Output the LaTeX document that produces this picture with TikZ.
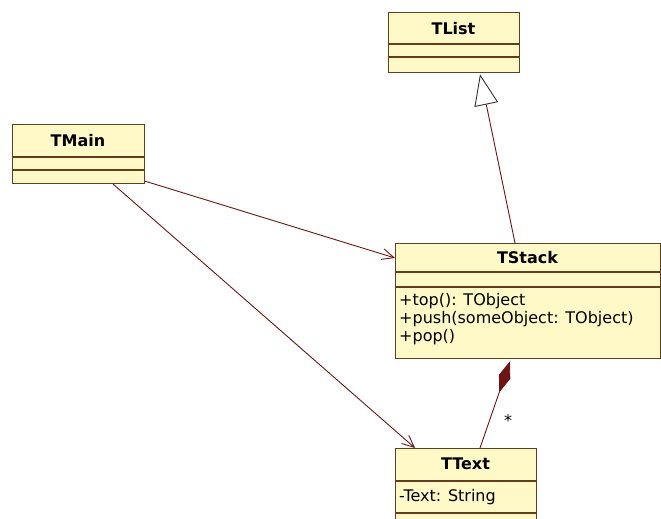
\documentclass[tikz,border=0pt]{standalone}
\usepackage{fontspec}
\setmainfont{DejaVu Sans}
\usetikzlibrary{arrows.meta}
\definecolor{boxfill}{RGB}{255,249,200}
\definecolor{boxline}{RGB}{100,60,30}
\definecolor{connc}{RGB}{110,20,20}
\begin{document}
\begin{tikzpicture}[x=1pt,y=-1pt,
  umlbox/.style={draw=boxline, fill=boxfill, line width=1.2pt, anchor=north west, inner sep=0pt},
  sep/.style={draw=boxline, line width=1.2pt},
  cname/.style={font=\fontsize{16}{18}\selectfont\bfseries, inner sep=0pt},
  member/.style={font=\fontsize{16}{18}\selectfont, anchor=west, inner sep=0pt},
  conn/.style={draw=connc, line width=0.9pt},
]
\useasboundingbox (0,0) rectangle (661,519);

% TList
\node[umlbox, minimum width=131pt, minimum height=60pt] (tlist) at (388,12) {};
\draw[sep] ([yshift=-32pt]tlist.north west) -- ([yshift=-32pt]tlist.north east);
\draw[sep] ([yshift=-45pt]tlist.north west) -- ([yshift=-45pt]tlist.north east);
\node[cname] (tlistname) at (453.5,29) {TList};

% TMain
\node[umlbox, minimum width=132pt, minimum height=59pt] (tmain) at (12,124) {};
\draw[sep] ([yshift=-33pt]tmain.north west) -- ([yshift=-33pt]tmain.north east);
\draw[sep] ([yshift=-46pt]tmain.north west) -- ([yshift=-46pt]tmain.north east);
\node[cname] (tmainname) at (78,141) {TMain};

% TStack
\node[umlbox, minimum width=265pt, minimum height=115pt] (tstack) at (395,243) {};
\draw[sep] ([yshift=-29pt]tstack.north west) -- ([yshift=-29pt]tstack.north east);
\draw[sep] ([yshift=-44pt]tstack.north west) -- ([yshift=-44pt]tstack.north east);
\node[cname] (tstackname) at (527.5,258) {TStack};
\node[member] (op1) at (399,301) {+top(): TObject};
\node[member] (op2) at (399,319) {+push(someObject: TObject)};
\node[member] (op3) at (399,337) {+pop()};

% TText
\node[umlbox, minimum width=141pt, minimum height=80pt] (ttext) at (395,448) {};
\draw[sep] ([yshift=-33pt]ttext.north west) -- ([yshift=-33pt]ttext.north east);
\draw[sep] ([yshift=-65pt]ttext.north west) -- ([yshift=-65pt]ttext.north east);
\node[cname] (ttextname) at (465.5,464) {TText};
\node[member] (attr1) at (399,497) {-Text: String};

% connectors
\draw[conn, -{Triangle[open, length=31pt, width=24pt, fill=white, color=black!80]}]
  ([xshift=120pt]tstack.north west) -- ([xshift=92pt, yshift=-1pt]tlist.south west);
\draw[conn, -{Straight Barb[length=12pt, width=11pt]}]
  ([yshift=3pt]tmain.south east) -- ([yshift=-15pt]tstack.north west);
\draw[conn, -{Straight Barb[length=12pt, width=11pt]}]
  ([xshift=-32pt]tmain.south east) -- ([xshift=20pt]ttext.north west);
\draw[conn, {Diamond[length=33pt, width=12pt, fill=connc]}-]
  ([xshift=115pt, yshift=-2pt]tstack.south west) -- ([xshift=85pt]ttext.north west);
\node[font=\fontsize{16}{18}\selectfont, inner sep=0pt] (mult) at (508,421) {*};
\end{tikzpicture}
\end{document}
